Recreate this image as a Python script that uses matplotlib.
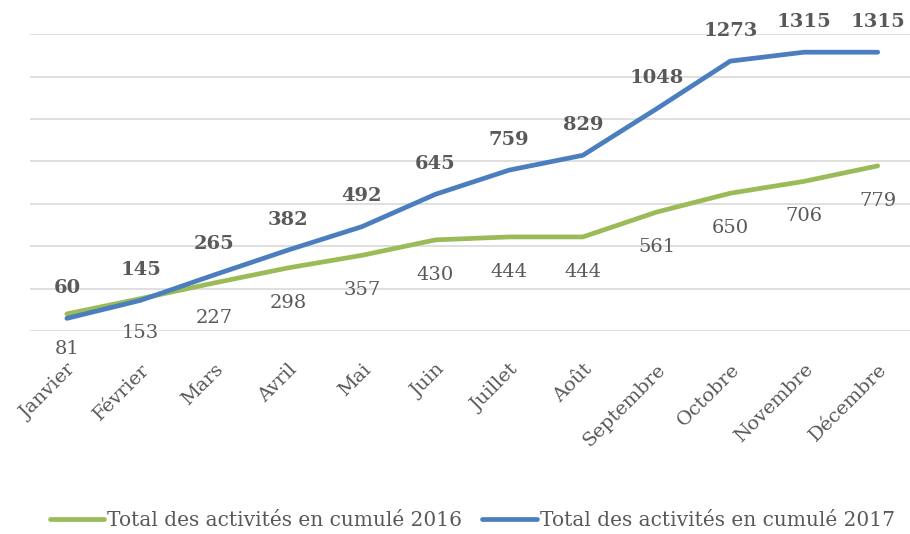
import matplotlib.pyplot as plt
from matplotlib.transforms import ScaledTranslation

mois = ['Janvier', 'Février', 'Mars', 'Avril', 'Mai', 'Juin', 'Juillet',
        'Août', 'Septembre', 'Octobre', 'Novembre', 'Décembre']
total_2016 = [81, 153, 227, 298, 357, 430, 444, 444, 561, 650, 706, 779]
total_2017 = [60, 145, 265, 382, 492, 645, 759, 829, 1048, 1273, 1315, 1315]

vert = '#9BBB59'
bleu = '#4A7EBF'
gris = '#595959'

plt.rcParams['font.family'] = ['DejaVu Serif']

fig = plt.figure(figsize=(9.1, 5.34), dpi=100)
ax = fig.add_axes([0.033, 0.380, 0.972, 0.556])

x = range(len(mois))
ax.plot(x, total_2016, color=vert, lw=3.4, solid_capstyle='round',
        label='Total des activités en cumulé 2016', zorder=3)
ax.plot(x, total_2017, color=bleu, lw=3.4, solid_capstyle='round',
        label='Total des activités en cumulé 2017', zorder=3)

for i, v in enumerate(total_2017):
    ax.annotate(str(v), (i, v), xytext=(0, 22), textcoords='offset points',
                ha='center', va='center', fontsize=14, fontweight='bold', color=gris)
for i, v in enumerate(total_2016):
    ax.annotate(str(v), (i, v), xytext=(0, -25), textcoords='offset points',
                ha='center', va='center', fontsize=14, color=gris)

ax.set_xlim(-0.5, 11.5)
ax.set_ylim(0, 1400)
ax.set_yticks(range(0, 1401, 200))
ax.yaxis.grid(True, color='#D9D9D9', lw=1.2)
ax.set_axisbelow(True)
ax.tick_params(axis='y', left=False, labelleft=False)
ax.tick_params(axis='x', length=0, pad=4)
ax.set_xticks(list(x))
ax.set_xticklabels(mois, rotation=45, ha='right', rotation_mode='anchor',
                   fontsize=14, color=gris)
decal = ScaledTranslation(0.0, -0.24, fig.dpi_scale_trans)
for lab in ax.get_xticklabels():
    lab.set_transform(lab.get_transform() + decal)
for s in ax.spines.values():
    s.set_visible(False)

leg = fig.legend(loc='center', bbox_to_anchor=(0.519, 0.025), ncol=2, frameon=False,
                 fontsize=14.5, handlelength=2.7, handletextpad=0.15, columnspacing=1.0)
for t in leg.get_texts():
    t.set_color(gris)

fig.savefig('out.png', dpi=100)
